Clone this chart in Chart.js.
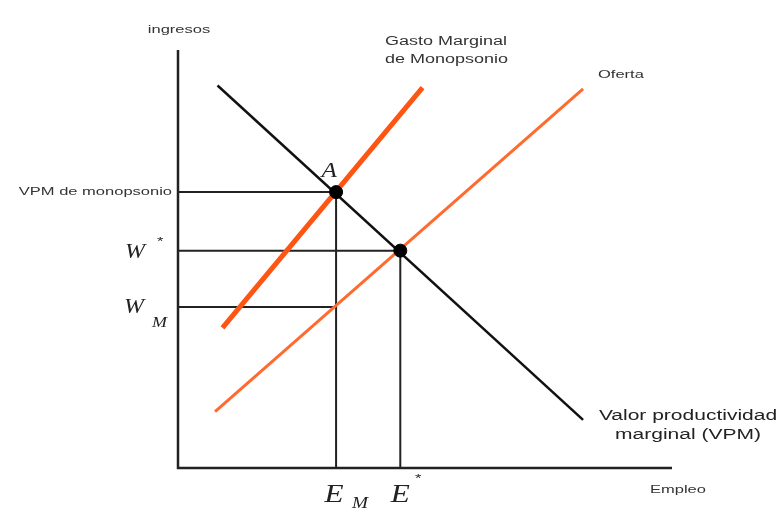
<!DOCTYPE html>
<html>
<head>
<meta charset="utf-8">
<script src="https://cdn.jsdelivr.net/npm/chart.js"></script>
<style>
  html, body { margin: 0; padding: 0; background: #fff; }
  #wrap { width: 776px; height: 516px; }
</style>
</head>
<body>
<div id="wrap"><canvas id="mono"></canvas></div>
<script>
// ===== datos (empleo 0-100, ingresos 0-100) =====
const vpmLine = [{ x: 8, y: 91.5 }, { x: 82, y: 11.5 }];
const gastoLine = [{ x: 9, y: 33.5 }, { x: 49.5, y: 91 }];
const ofertaLine = [{ x: 7.5, y: 13.5 }, { x: 82, y: 90.7 }];

const empleoM = 32;      // E_M
const empleoC = 45;      // E*
const vpmMono = 66;      // VPM de monopsonio
const salarioC = 52;     // W*
const salarioM = 38.5;   // W_M

const puntos = [{ x: empleoM, y: vpmMono }, { x: empleoC, y: salarioC }];

// guias: horizontal desde el eje y vertical hasta el eje
const guias = [
  [{ x: 0, y: vpmMono }, { x: empleoM, y: vpmMono }],
  [{ x: 0, y: salarioC }, { x: empleoC, y: salarioC }],
  [{ x: 0, y: salarioM }, { x: empleoM, y: salarioM }],
  [{ x: empleoM, y: vpmMono }, { x: empleoM, y: 0 }],
  [{ x: empleoC, y: salarioC }, { x: empleoC, y: 0 }]
];
const ejes = [
  [{ x: 0, y: 100 }, { x: 0, y: 0 }, { x: 100, y: 0 }]
];

// order: el menor se dibuja encima
function linea(data, color, width, order) {
  return {
    type: 'line', data: data, borderColor: color, borderWidth: width,
    pointRadius: 0, fill: false, tension: 0, clip: false, order: order
  };
}

const datasets = [];
guias.forEach(g => datasets.push(linea(g, '#222', 2, 6)));
ejes.forEach(e => datasets.push(linea(e, '#222', 2.5, 5)));
datasets.push(linea(ofertaLine, '#ff6a2e', 3, 4));
datasets.push(linea(gastoLine, '#ff5512', 5, 3));
datasets.push(linea(vpmLine, '#111', 2.5, 2));
datasets.push({
  type: 'scatter', data: puntos, pointRadius: 6.5, pointBackgroundColor: '#000',
  pointBorderColor: '#000', clip: false, order: 1
});

// textos del grafico, posicionados con las escalas (ensanchados en horizontal)
const rotulos = {
  id: 'rotulos',
  afterDraw(chart) {
    const ctx = chart.ctx;
    const xs = chart.scales.x, ys = chart.scales.y;
    const X = v => xs.getPixelForValue(v), Y = v => ys.getPixelForValue(v);
    const sans = s => s + 'px "Liberation Sans", Arial, sans-serif';
    const serif = s => 'italic ' + s + 'px "Liberation Serif", "Times New Roman", serif';
    const txt = (s, x, y, font, align, color, sx) => {
      ctx.save();
      ctx.font = font;
      ctx.textAlign = align || 'left';
      ctx.textBaseline = 'middle';
      ctx.fillStyle = color || '#222';
      ctx.translate(x, y);
      ctx.scale(sx || 1.5, 1);
      ctx.fillText(s, 0, 0);
      ctx.restore();
    };

    txt('ingresos', X(0) + 1, 30, sans(11), 'center', '#333');
    txt('Gasto Marginal', 385, 42, sans(12), 'left', '#333');
    txt('de Monopsonio', 385, 60, sans(12), 'left', '#333');
    txt('Oferta', 598, 75, sans(11), 'left', '#333');
    txt('VPM de monopsonio', X(0) - 6, Y(vpmMono), sans(11), 'right', '#333');

    txt('W', 125, Y(salarioC) + 2, serif(20), 'left', '#222', 1.2);
    txt('*', 157, Y(salarioC) - 9, sans(11));
    txt('W', 124, Y(salarioM) + 1, serif(20), 'left', '#222', 1.2);
    txt('M', 152, Y(salarioM) + 16, serif(15), 'left', '#222', 1.2);

    txt('A', X(empleoM) - 7, Y(vpmMono) - 21, serif(21), 'center', '#222', 1.2);

    txt('E', X(empleoM) - 2, 495, serif(26), 'center', '#222', 1.2);
    txt('M', X(empleoM) + 24, 504, serif(16), 'center', '#222', 1.2);
    txt('E', X(empleoC) + 0, 495, serif(26), 'center', '#222', 1.2);
    txt('*', X(empleoC) + 18, 479, sans(11), 'center');

    txt('Empleo', 650, 490, sans(11), 'left', '#333');
    txt('Valor productividad', 688, 416, sans(14), 'center');
    txt('marginal (VPM)', 688, 435, sans(14), 'center');
  }
};

new Chart(document.getElementById('mono'), {
  data: { datasets: datasets },
  options: {
    responsive: true,
    maintainAspectRatio: false,
    animation: false,
    layout: { padding: { left: 178, right: 104, top: 50, bottom: 48 } },
    plugins: { legend: { display: false }, tooltip: { enabled: false } },
    scales: {
      x: { type: 'linear', min: 0, max: 100, display: false },
      y: { type: 'linear', min: 0, max: 100, display: false }
    }
  },
  plugins: [rotulos]
});
</script>
</body>
</html>
